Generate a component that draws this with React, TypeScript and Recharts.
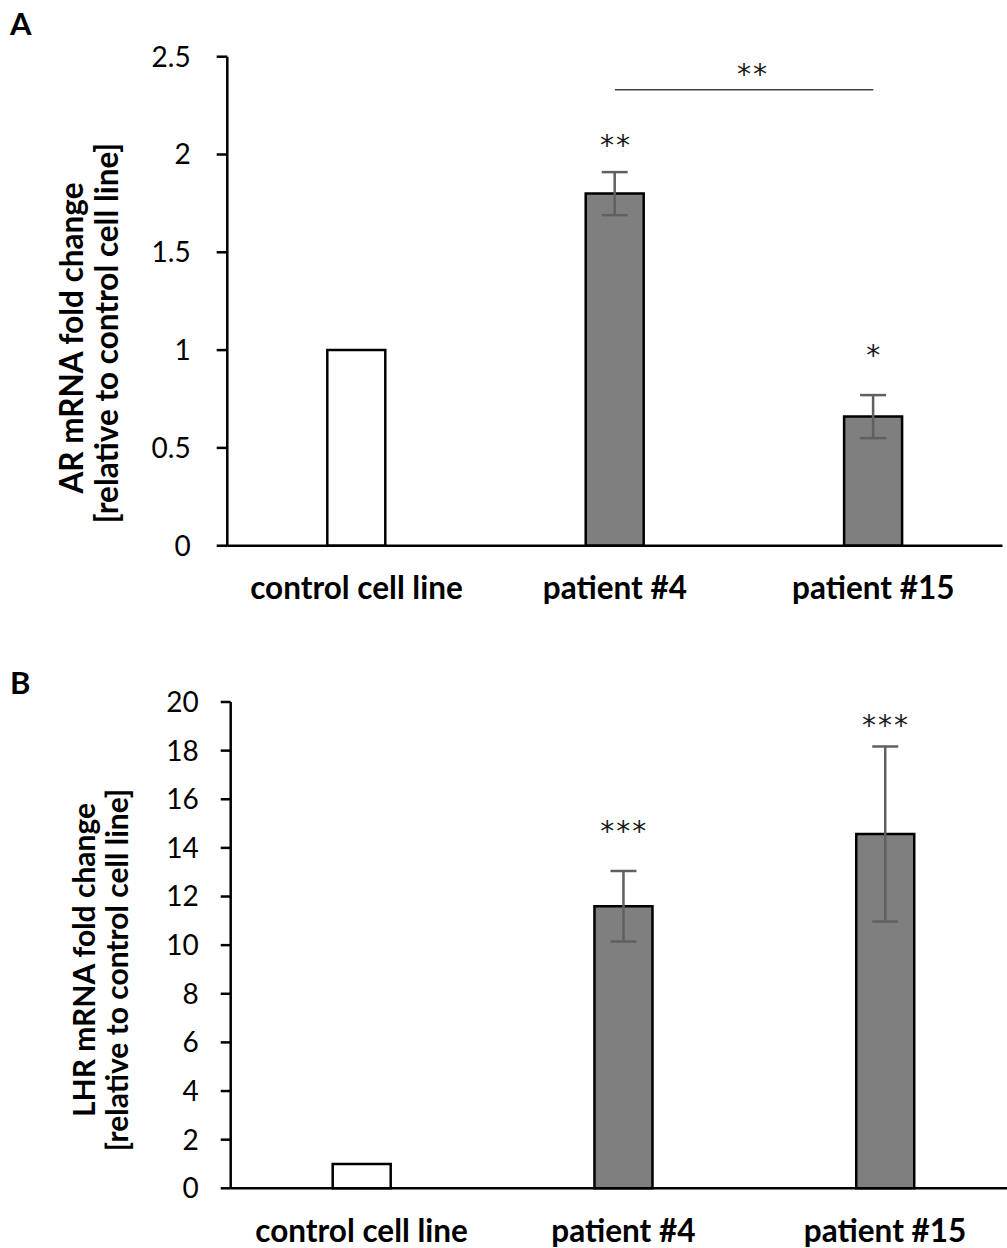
import React from 'react';
import { ComposedChart, Bar, Cell, XAxis, YAxis, ErrorBar, Scatter, ReferenceLine, Label } from 'recharts';

const categories = ['control cell line', 'patient #4', 'patient #15'];
const barFills = ['#ffffff', '#7f7f7f', '#7f7f7f'];

const arValues = [1, 1.8, 0.66];
const arErrors = [0, 0.11, 0.11];
const arStars = ['', '**', '*'];
const arStarLevels = [null, 2.08, 1.006];
const arTicks = [0, 0.5, 1, 1.5, 2, 2.5];
const arBracketLevel = 2.331;
const arBracketLabel = '**';

const lhrValues = [1, 11.6, 14.57];
const lhrErrors = [0, 1.45, 3.6];
const lhrStars = ['', '***', '***'];
const lhrStarLevels = [null, 14.95, 19.32];
const lhrTicks = [0, 2, 4, 6, 8, 10, 12, 14, 16, 18, 20];

const arData = categories.map((name, i) => ({
  name,
  value: arValues[i],
  err: arErrors[i],
  star: arStars[i],
  starLevel: arStarLevels[i],
}));
const lhrData = categories.map((name, i) => ({
  name,
  value: lhrValues[i],
  err: lhrErrors[i],
  star: lhrStars[i],
  starLevel: lhrStarLevels[i],
}));

const FONT = 'Lato, "Open Sans", sans-serif';
const STAR_FONT = '"DejaVu Sans", sans-serif';

const StarShape = (props: any) => {
  const { cx, cy, payload } = props;
  if (!payload || !payload.star || cy == null || isNaN(cy)) return <g />;
  return (
    <text x={cx + 1} y={cy + 16} textAnchor="middle" fontSize={28} letterSpacing={2} fontFamily={STAR_FONT} fill="#1a1a1a">
      {payload.star}
    </text>
  );
};

const makeYLabel = (letter: string, letterY: number, fs: number, l1: string, l1x: number, l1y: number, l2: string, l2x: number, l2y: number) => () => (
  <g>
    <text x={10} y={letterY} fontSize={31} fontWeight={700} fontFamily={FONT} fill="#000">{letter}</text>
    <text x={l1x} y={l1y} transform={`rotate(-90, ${l1x}, ${l1y})`} textAnchor="middle" fontSize={fs} fontWeight={700} fontFamily={FONT} fill="#000">{l1}</text>
    <text x={l2x} y={l2y} transform={`rotate(-90, ${l2x}, ${l2y})`} textAnchor="middle" fontSize={fs} fontWeight={700} fontFamily={FONT} fill="#000">{l2}</text>
  </g>
);

const BracketLabel = (props: any) => {
  const vb = props.viewBox || {};
  const cx = (vb.x ?? 0) + (vb.width ?? 0) / 2;
  const y = vb.y ?? 0;
  return (
    <text x={cx + 9} y={y - 6} textAnchor="middle" fontSize={28} letterSpacing={2} fontFamily={STAR_FONT} fill="#1a1a1a">{arBracketLabel}</text>
  );
};

const axisStyle = { stroke: '#000', strokeWidth: 2.5 };

export default function App() {
  return (
    <div style={{ position: 'absolute', left: 0, top: 0, width: 1007, height: 1248, overflow: 'hidden', background: '#fff', fontFamily: FONT }}>
      <div style={{ position: 'absolute', left: 0, top: 0 }}>
        <ComposedChart width={1007} height={625} data={arData} margin={{ top: 56.7, right: 4.5, left: 167.3, bottom: 19.3 }}>
          <XAxis
            dataKey="name"
            type="category"
            axisLine={axisStyle}
            tickLine={false}
            tickSize={0}
            tickMargin={31}
            height={60}
            tick={{ fill: '#000', fontSize: 31.5, fontWeight: 700, fontFamily: FONT }}
            interval={0}
          />
          <YAxis
            type="number"
            domain={[0, 2.5]}
            ticks={arTicks}
            width={60}
            axisLine={axisStyle}
            tickLine={axisStyle}
            tickSize={10.6}
            tickMargin={26}
            tick={{ fill: '#000', fontSize: 28, fontFamily: FONT }}
          >
            <Label content={makeYLabel('A', 35, 31.5, 'AR mRNA fold change', 83, 338, '[relative to control cell line]', 118, 333)} />
          </YAxis>
          <Bar dataKey="value" barSize={58} stroke="#000" strokeWidth={2.5} isAnimationActive={false}>
            {arData.map((d, i) => (
              <Cell key={d.name} fill={barFills[i]} />
            ))}
            <ErrorBar dataKey="err" width={13} stroke="#606060" strokeWidth={2.5} />
          </Bar>
          <Scatter dataKey="starLevel" shape={<StarShape />} isAnimationActive={false} />
          <ReferenceLine
            segment={[{ x: categories[1], y: arBracketLevel }, { x: categories[2], y: arBracketLevel }]}
            stroke="#404040"
            strokeWidth={1.5}
            label={<BracketLabel />}
          />
        </ComposedChart>
      </div>
      <div style={{ position: 'absolute', left: 0, top: 625 }}>
        <ComposedChart width={1020} height={623} data={lhrData} margin={{ top: 77, right: 4, left: 170.7, bottom: 19.7 }}>
          <XAxis
            dataKey="name"
            type="category"
            axisLine={axisStyle}
            tickLine={false}
            tickSize={0}
            tickMargin={31}
            height={40}
            tick={{ fill: '#000', fontSize: 31.5, fontWeight: 700, fontFamily: FONT }}
            interval={0}
          />
          <YAxis
            type="number"
            domain={[0, 20]}
            ticks={lhrTicks}
            width={60}
            axisLine={axisStyle}
            tickLine={axisStyle}
            tickSize={10}
            tickMargin={22}
            tick={{ fill: '#000', fontSize: 28, fontFamily: FONT }}
          >
            <Label content={makeYLabel('B', 69, 30, 'LHR mRNA fold change', 95, 335, '[relative to control cell line]', 128, 345)} />
          </YAxis>
          <Bar dataKey="value" barSize={58} stroke="#000" strokeWidth={2.5} isAnimationActive={false}>
            {lhrData.map((d, i) => (
              <Cell key={d.name} fill={barFills[i]} />
            ))}
            <ErrorBar dataKey="err" width={13} stroke="#606060" strokeWidth={2.5} />
          </Bar>
          <Scatter dataKey="starLevel" shape={<StarShape />} isAnimationActive={false} />
        </ComposedChart>
      </div>
    </div>
  );
}
